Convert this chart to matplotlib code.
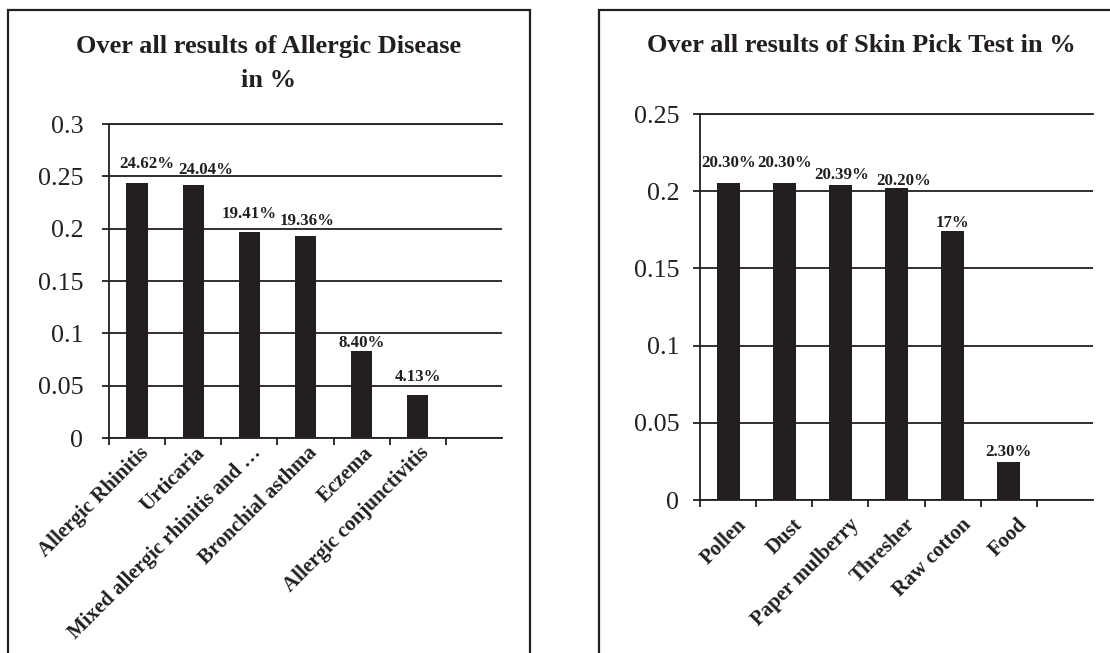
import matplotlib
matplotlib.use('Agg')
import matplotlib.pyplot as plt
import matplotlib.transforms as mtransforms
from matplotlib.patches import Rectangle

plt.rcParams['font.family'] = ['Liberation Serif', 'DejaVu Serif']

INK = '#231f20'

# Data - left chart
disease_names = ['Allergic Rhinitis', 'Urticaria', 'Mixed allergic rhinitis and \u2026',
                 'Bronchial asthma', 'Eczema', 'Allergic conjunctivitis']
disease_values = [0.2436, 0.2417, 0.1965, 0.1932, 0.0835, 0.0415]
disease_labels = ['24.62%', '24.04%', '19.41%', '19.36%', '8.40%', '4.13%']
disease_yticks = [0, 0.05, 0.1, 0.15, 0.2, 0.25, 0.3]

# Data - right chart
skin_names = ['Pollen', 'Dust', 'Paper mulberry', 'Thresher', 'Raw cotton', 'Food']
skin_values = [0.205, 0.205, 0.2039, 0.2020, 0.1745, 0.0245]
skin_labels = ['20.30%', '20.30%', '20.39%', '20.20%', '17%', '2.30%']
skin_yticks = [0, 0.05, 0.1, 0.15, 0.2, 0.25]

N_SLOTS = 7  # category axis has one empty slot at the end

# label offsets in pixels (dx, dy above bar top)
disease_lab_dx = [10, 13, 0, 2, 0, 0]
disease_lab_dy = [15, 11, 14, 11, 4, 14]
skin_lab_dx = [1, 0, 1, 7, 0, 0]
skin_lab_dy = [16, 16, 6, 3, 4, 6]


def draw_panel(ax, fig, names, values, labels, yticks, bar_w, lab_dx, lab_dy,
               ypad, xpad, xshift):
    x = list(range(len(names)))
    ax.bar(x, values, width=bar_w, color=INK, zorder=3)
    ax.set_xlim(-0.5, N_SLOTS - 0.5)
    ax.set_ylim(yticks[0], yticks[-1])

    for i, (v, t) in enumerate(zip(values, labels)):
        ax.annotate(t, xy=(i, v), xytext=(lab_dx[i], lab_dy[i]),
                    textcoords='offset pixels', ha='center', va='baseline',
                    fontsize=12.2, fontweight='bold', color=INK, zorder=4)

    # y axis
    ax.set_yticks(yticks)
    ax.set_yticklabels([f'{t:g}' for t in yticks])
    ax.tick_params(axis='y', length=5, width=1.3, color=INK, pad=ypad,
                   labelsize=18.7, labelcolor=INK)
    ax.yaxis.grid(True, color=INK, linewidth=1.3, zorder=1)

    # x axis: labels at centres, tick marks at slot boundaries
    ax.set_xticks(x)
    ax.set_xticklabels(names, rotation=45, ha='right', va='center',
                       rotation_mode='anchor', fontsize=15, fontweight='bold',
                       color=INK)
    ax.tick_params(axis='x', which='major', length=0, pad=xpad)
    ax.set_xticks([b - 0.5 for b in range(N_SLOTS)], minor=True)
    ax.tick_params(axis='x', which='minor', length=5, width=1.3, color=INK,
                   direction='out')
    shift = mtransforms.ScaledTranslation(xshift / 100, 0, fig.dpi_scale_trans)
    for lab in ax.get_xticklabels():
        lab.set_transform(lab.get_transform() + shift)

    for side in ['left', 'bottom', 'top']:
        ax.spines[side].set_color(INK)
        ax.spines[side].set_linewidth(1.3)
    ax.spines['right'].set_visible(False)


fig = plt.figure(figsize=(11.1, 6.53), dpi=100)

ax1 = fig.add_axes([0.0982, 0.3292, 0.3541, 0.4809])
draw_panel(ax1, fig, disease_names, disease_values, disease_labels, disease_yticks,
           0.38, disease_lab_dx, disease_lab_dy, ypad=13.5, xpad=8.6, xshift=8.5)

ax2 = fig.add_axes([0.6306, 0.2343, 0.3541, 0.5911])
draw_panel(ax2, fig, skin_names, skin_values, skin_labels, skin_yticks,
           0.41, skin_lab_dx, skin_lab_dy, ypad=10, xpad=15.8, xshift=15.5)

# panel frames
fig.patches.append(Rectangle((0.0072, -0.05), 0.4703, 1.0347, fill=False,
                             edgecolor=INK, linewidth=1.6,
                             transform=fig.transFigure, figure=fig))
fig.patches.append(Rectangle((0.5396, -0.05), 0.5, 1.0347, fill=False,
                             edgecolor=INK, linewidth=1.6,
                             transform=fig.transFigure, figure=fig))

fig.text(0.2423, 0.9028, 'Over all results of Allergic Disease\nin %',
         ha='center', va='center', fontsize=19, fontweight='bold', color=INK,
         linespacing=1.6)
fig.text(0.7761, 0.9310, 'Over all results of Skin Pick Test in %',
         ha='center', va='center', fontsize=19, fontweight='bold', color=INK)

fig.savefig('out.png', dpi=100)
